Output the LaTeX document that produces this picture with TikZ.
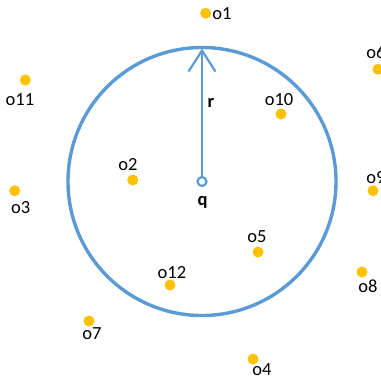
\documentclass[tikz,border=0pt]{standalone}
\usepackage{fontspec}
\setmainfont{Carlito}
\usetikzlibrary{arrows.meta}
\definecolor{rangeblue}{HTML}{5B9BD5}
\definecolor{objgold}{HTML}{FFC000}

\begin{document}
\begin{tikzpicture}[x=1pt,y=-1pt]
    \tikzstyle{obj}=[circle, fill=objgold, inner sep=0pt, minimum size=11pt]
    \tikzstyle{lbl}=[inner sep=0pt, font=\fontsize{18.5}{20}\selectfont]
    \tikzstyle{qpt}=[circle, draw=rangeblue, fill=white, line width=2.2pt, inner sep=0pt, minimum size=9pt]

    \useasboundingbox (0,0) rectangle (380,382);

    % range circle around q
    \node[qpt] (q) at (202,181.5) {};
    \draw[rangeblue, line width=3.4pt] (q.center) circle (134);
    \coordinate (rtop) at (202,48.5);
    \draw[rangeblue, line width=2.2pt, -{Straight Barb[length=21pt,width=27pt]}] (q) -- (rtop);
    \node[lbl, font=\fontsize{18.5}{20}\selectfont\bfseries] (rlbl) at (211,103) {r};
    \node[lbl, font=\fontsize{18.5}{20}\selectfont\bfseries] (qlbl) at (202.5,202) {q};

    % objects: id / dot x / dot y / label x / label y
    \foreach \n/\x/\y/\lx/\ly in {1/205.7/13.3/222/14, 2/132.7/180/128/165, 3/14.7/190.7/20.7/208,
        4/253/359/262/370, 5/258/252/257/237, 6/378/69.3/376/52, 7/89/321/92/334,
        8/362/272/368/286, 9/373/190.7/376/178, 10/281/114/279/100, 11/25.3/80/20/100,
        12/170/285/172/273}
      {\node[obj] (o\n) at (\x,\y) {};
       \node[lbl] (o\n lbl) at (\lx,\ly) {o\n};}
\end{tikzpicture}
\end{document}
